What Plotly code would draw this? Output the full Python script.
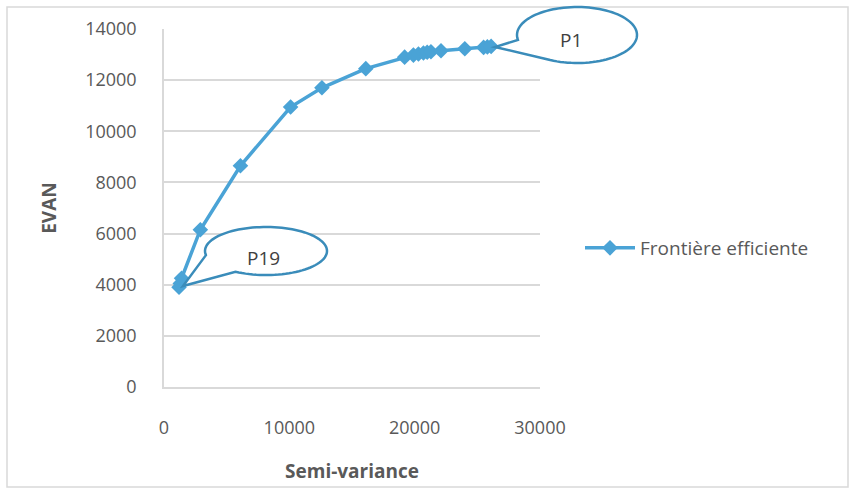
import plotly.graph_objects as go
import numpy as np

# ---- data ----
semi_variance = [1200, 1300, 1400, 2900, 6100, 10100, 12600, 16100, 19200, 19900,
                 20300, 20700, 21000, 21300, 22100, 24000, 25500, 25800, 26100]
evan = [3900, 4050, 4250, 6150, 8650, 10950, 11700, 12450, 12900, 12980,
        13020, 13060, 13090, 13110, 13150, 13230, 13280, 13300, 13320]
x_ticks = [0, 10000, 20000, 30000]
y_ticks = [0, 2000, 4000, 6000, 8000, 10000, 12000, 14000]
series_name = "Frontière efficiente"
labels = ["P1", "P19"]

# ---- layout geometry (pixels) ----
W, H = 856, 491
L, R, T, B = 164, 540, 29, 387


def px(X):
    return (X - L) / (R - L)


def py(Y):
    return (B - Y) / (B - T)


def callout_path(cx, cy, rx, ry, tip, a1=170, a2=120):
    angs = np.radians(np.linspace(a1, a2 + 360, 90))
    pts = [(cx + rx * np.cos(a), cy + ry * np.sin(a)) for a in angs]
    pts.append(tip)
    d = "M " + " L ".join(f"{px(x):.5f},{py(y):.5f}" for x, y in pts) + " Z"
    return d


series_color = "#4aa3d6"
callout_color = "#3a8cba"
text_color = "#595959"
font_family = "'Open Sans', Lato, sans-serif"

fig = go.Figure()
fig.add_trace(go.Scatter(
    x=semi_variance, y=evan, mode="lines+markers", name=series_name,
    line=dict(color=series_color, width=3.5),
    marker=dict(symbol="diamond", size=12, color=series_color),
))

shapes = [
    dict(type="rect", xref="paper", yref="paper", x0=px(7), x1=px(848), y0=py(487), y1=py(7),
         line=dict(color="#d9d9d9", width=1.5), layer="below"),
    dict(type="path", xref="paper", yref="paper",
         path=callout_path(577, 35, 60, 28, (495, 47)),
         fillcolor="white", line=dict(color=callout_color, width=2.5), layer="above"),
    dict(type="path", xref="paper", yref="paper",
         path=callout_path(266, 251, 61, 24, (183, 286)),
         fillcolor="white", line=dict(color=callout_color, width=2.5), layer="above"),
]

annotations = [
    dict(x=px(571), y=py(40), xref="paper", yref="paper", text=labels[0], showarrow=False,
         xanchor="center", yanchor="middle",
         font=dict(size=19, color="#404040", family=font_family)),
    dict(x=px(263), y=py(258), xref="paper", yref="paper", text=labels[1], showarrow=False,
         xanchor="center", yanchor="middle",
         font=dict(size=19, color="#404040", family=font_family)),
]

fig.update_layout(
    width=W, height=H,
    margin=dict(l=L, r=W - R, t=T, b=H - B, pad=0),
    paper_bgcolor="white", plot_bgcolor="white",
    font=dict(family=font_family, size=18, color=text_color),
    shapes=shapes, annotations=annotations,
    showlegend=True,
    legend=dict(x=px(580), y=py(248), xanchor="left", yanchor="middle",
                font=dict(size=19, color=text_color), bgcolor="rgba(0,0,0,0)",
                itemwidth=50),
    xaxis=dict(range=[0, 30000], tickvals=x_ticks, ticktext=[str(v) for v in x_ticks],
               showgrid=False, zeroline=False, showline=True, linecolor="#d9d9d9", linewidth=1.5,
               ticks="", ticklabelstandoff=24,
               title=dict(text="<b>Semi-variance</b>", standoff=26, font=dict(size=19))),
    yaxis=dict(range=[0, 14000], tickvals=y_ticks, ticktext=[str(v) for v in y_ticks],
               showgrid=True, gridcolor="#d9d9d9", gridwidth=1.5, zeroline=False,
               showline=True, linecolor="#d9d9d9", linewidth=1.5,
               ticks="", ticklabelstandoff=22,
               title=dict(text="<b>EVAN</b>", standoff=24, font=dict(size=19))),
)

fig.write_html("out.html")
